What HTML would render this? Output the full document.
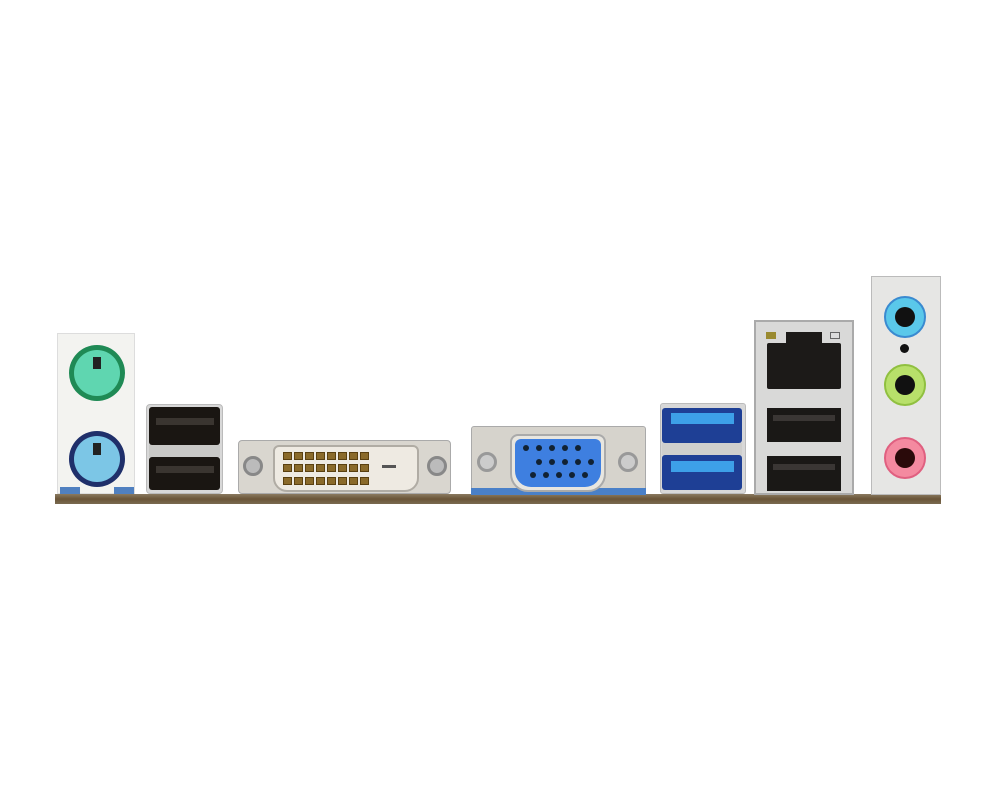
<!DOCTYPE html>
<html><head><style>
body{margin:0;width:1000px;height:800px;background:#fff;position:relative;overflow:hidden;font-family:"Liberation Sans",sans-serif}
div{position:absolute;box-sizing:border-box}
.r{border-radius:50%}
.pin{width:9px;height:8px;background:#8a6a2a;border:1px solid #5a4010}
.dot{width:6px;height:6px;background:#123;border-radius:50%}
</style></head><body>
<!-- PCB strip -->
<div style="left:55px;top:494px;width:886px;height:10px;background:linear-gradient(#8a7a60,#6b5538 50%,#7a6a50)"></div>

<!-- PS/2 panel -->
<div style="left:57px;top:333px;width:78px;height:161px;background:#f3f3f0;border:1px solid #ddd"></div>
<div class="r" style="left:69px;top:345px;width:56px;height:56px;background:#1f8a55"></div>
<div class="r" style="left:74px;top:350px;width:46px;height:46px;background:#5fd6b0"></div>
<div style="left:93px;top:357px;width:8px;height:12px;background:#222"></div>
<div class="r" style="left:69px;top:431px;width:56px;height:56px;background:#1f2f6a"></div>
<div class="r" style="left:74px;top:436px;width:46px;height:46px;background:#7cc6e6"></div>
<div style="left:93px;top:443px;width:8px;height:12px;background:#222"></div>
<div style="left:60px;top:487px;width:20px;height:7px;background:#5080c0"></div>
<div style="left:114px;top:487px;width:20px;height:7px;background:#5080c0"></div>

<!-- USB2 stack -->
<div style="left:146px;top:404px;width:77px;height:90px;background:#d8d8d8;border:1px solid #bbb;border-radius:4px"></div>
<div style="left:149px;top:407px;width:71px;height:38px;background:#1a1612;border-radius:3px"></div>
<div style="left:156px;top:418px;width:58px;height:7px;background:#3a3530"></div>
<div style="left:149px;top:445px;width:71px;height:12px;background:#c9c9c7"></div>
<div style="left:149px;top:457px;width:71px;height:33px;background:#1a1612;border-radius:3px"></div>
<div style="left:156px;top:466px;width:58px;height:7px;background:#3a3530"></div>

<!-- DVI -->
<div style="left:238px;top:440px;width:213px;height:54px;background:#d9d6cf;border:1px solid #aaa;border-radius:4px"></div>
<div class="r" style="left:243px;top:456px;width:20px;height:20px;background:#bbb;border:3px solid #888"></div>
<div class="r" style="left:427px;top:456px;width:20px;height:20px;background:#bbb;border:3px solid #888"></div>
<div style="left:273px;top:445px;width:146px;height:47px;background:#eeeae2;border:2px solid #b0aca4;border-radius:6px 6px 14px 14px"></div>
<div style="left:283px;top:452px;width:88px;height:34px;display:grid;grid-template-columns:repeat(8,9px);gap:3px 2px">
<div class="pin" style="position:static"></div><div class="pin" style="position:static"></div><div class="pin" style="position:static"></div><div class="pin" style="position:static"></div><div class="pin" style="position:static"></div><div class="pin" style="position:static"></div><div class="pin" style="position:static"></div><div class="pin" style="position:static"></div>
<div class="pin" style="position:static"></div><div class="pin" style="position:static"></div><div class="pin" style="position:static"></div><div class="pin" style="position:static"></div><div class="pin" style="position:static"></div><div class="pin" style="position:static"></div><div class="pin" style="position:static"></div><div class="pin" style="position:static"></div>
<div class="pin" style="position:static"></div><div class="pin" style="position:static"></div><div class="pin" style="position:static"></div><div class="pin" style="position:static"></div><div class="pin" style="position:static"></div><div class="pin" style="position:static"></div><div class="pin" style="position:static"></div><div class="pin" style="position:static"></div>
</div>
<div style="left:382px;top:465px;width:14px;height:3px;background:#555"></div>

<!-- VGA -->
<div style="left:471px;top:426px;width:175px;height:69px;background:#d6d3cc;border:1px solid #aaa;border-radius:3px"></div>
<div style="left:471px;top:488px;width:175px;height:7px;background:#4a80c8"></div>
<div class="r" style="left:477px;top:452px;width:20px;height:20px;background:#ccc;border:3px solid #999"></div>
<div class="r" style="left:618px;top:452px;width:20px;height:20px;background:#ccc;border:3px solid #999"></div>
<div style="left:510px;top:434px;width:96px;height:58px;background:#e8e6e0;border:2px solid #aaa;border-radius:8px 8px 18px 18px"></div>
<div style="left:515px;top:439px;width:86px;height:48px;background:#3e7fe0;border-radius:6px 6px 16px 16px"></div>
<div class="dot" style="left:523px;top:445px"></div><div class="dot" style="left:536px;top:445px"></div><div class="dot" style="left:549px;top:445px"></div><div class="dot" style="left:562px;top:445px"></div><div class="dot" style="left:575px;top:445px"></div>
<div class="dot" style="left:536px;top:459px"></div><div class="dot" style="left:549px;top:459px"></div><div class="dot" style="left:562px;top:459px"></div><div class="dot" style="left:575px;top:459px"></div><div class="dot" style="left:588px;top:459px"></div>
<div class="dot" style="left:530px;top:472px"></div><div class="dot" style="left:543px;top:472px"></div><div class="dot" style="left:556px;top:472px"></div><div class="dot" style="left:569px;top:472px"></div><div class="dot" style="left:582px;top:472px"></div>

<!-- USB3 -->
<div style="left:660px;top:403px;width:86px;height:91px;background:#d8d8d8;border:1px solid #bbb;border-radius:3px"></div>
<div style="left:662px;top:408px;width:80px;height:35px;background:#1e3f95;border-radius:3px"></div>
<div style="left:671px;top:413px;width:63px;height:11px;background:#3da0e8"></div>
<div style="left:662px;top:443px;width:80px;height:12px;background:#cfcfcd"></div>
<div style="left:662px;top:455px;width:80px;height:35px;background:#1e3f95;border-radius:3px"></div>
<div style="left:671px;top:461px;width:63px;height:11px;background:#3da0e8"></div>

<!-- LAN + USB -->
<div style="left:754px;top:320px;width:100px;height:175px;background:#d9d9d8;border:2px solid #aaa"></div>
<div style="left:766px;top:332px;width:10px;height:7px;background:#9a8a30"></div>
<div style="left:830px;top:332px;width:10px;height:7px;background:#ddd;border:1px solid #666"></div>
<div style="left:767px;top:343px;width:74px;height:46px;background:#1c1a18;border-radius:2px"></div>
<div style="left:786px;top:332px;width:36px;height:12px;background:#1c1a18"></div>
<div style="left:767px;top:408px;width:74px;height:34px;background:#1a1816"></div>
<div style="left:773px;top:415px;width:62px;height:6px;background:#3a3634"></div>
<div style="left:767px;top:456px;width:74px;height:35px;background:#1a1816"></div>
<div style="left:773px;top:464px;width:62px;height:6px;background:#3a3634"></div>

<!-- Audio -->
<div style="left:871px;top:276px;width:70px;height:219px;background:#e6e6e4;border:1px solid #bbb"></div>
<div class="r" style="left:884px;top:296px;width:42px;height:42px;background:#5ac8ea;border:2px solid #3a8ad0"></div>
<div class="r" style="left:895px;top:307px;width:20px;height:20px;background:#111"></div>
<div class="r" style="left:900px;top:344px;width:9px;height:9px;background:#111"></div>
<div class="r" style="left:884px;top:364px;width:42px;height:42px;background:#b8e06a;border:2px solid #90c040"></div>
<div class="r" style="left:895px;top:375px;width:20px;height:20px;background:#111"></div>
<div class="r" style="left:884px;top:437px;width:42px;height:42px;background:#f48aa0;border:2px solid #e06080"></div>
<div class="r" style="left:895px;top:448px;width:20px;height:20px;background:#2a0a0a"></div>
</body></html>
